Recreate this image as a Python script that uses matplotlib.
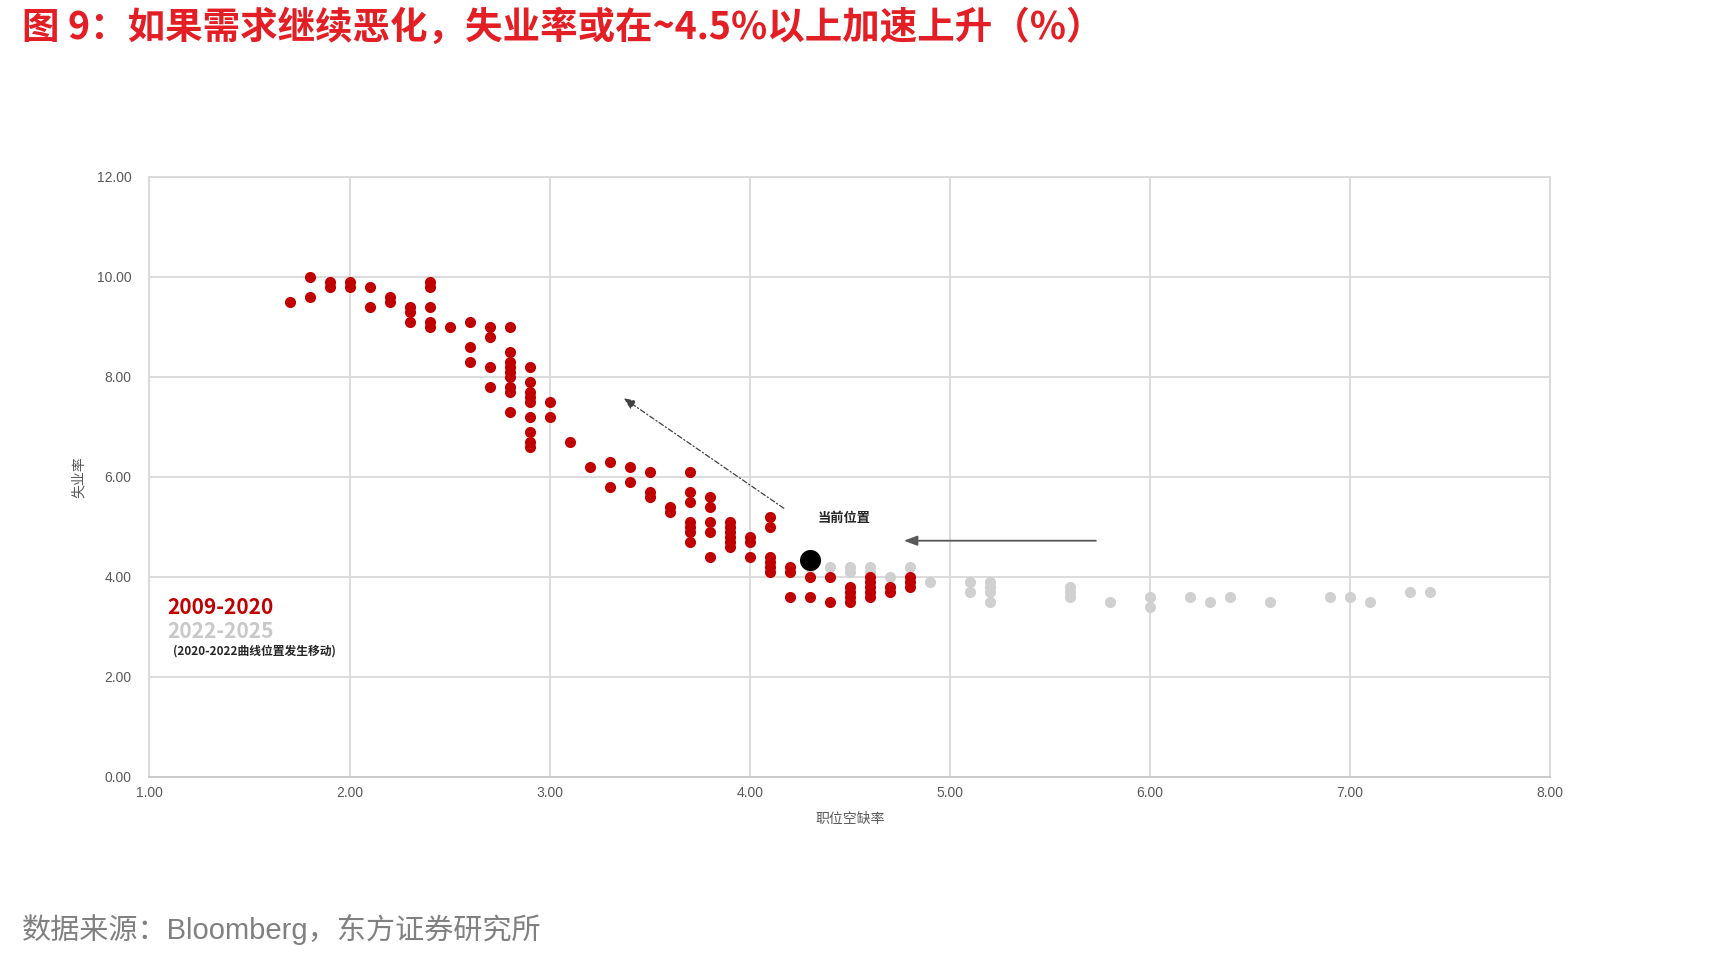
import matplotlib
matplotlib.use("Agg")
import matplotlib.pyplot as plt
import numpy as np

plt.rcParams['font.family'] = ['Liberation Sans', 'Noto Sans CJK SC', 'DejaVu Sans']
CJK = ['Noto Sans CJK SC', 'DejaVu Sans']

# 2009-2020: 职位空缺率 vs 失业率 (红点)
red_x = [1.7, 1.8, 1.8, 1.9, 1.9, 2.0, 2.0, 2.1, 2.1, 2.2, 2.2,
         2.3, 2.3, 2.3, 2.4, 2.4, 2.4, 2.4, 2.4, 2.5,
         2.6, 2.6, 2.6, 2.7, 2.7, 2.7, 2.7,
         2.8, 2.8, 2.8, 2.8, 2.8, 2.8, 2.8, 2.8, 2.8,
         2.9, 2.9, 2.9, 2.9, 2.9, 2.9, 2.9, 2.9, 2.9,
         3.0, 3.0, 3.1, 3.2, 3.3, 3.3, 3.4, 3.4, 3.5, 3.5, 3.5, 3.6, 3.6,
         3.7, 3.7, 3.7, 3.7, 3.7, 3.7, 3.7,
         3.8, 3.8, 3.8, 3.8, 3.8,
         3.9, 3.9, 3.9, 3.9, 3.9, 3.9,
         4.0, 4.0, 4.0,
         4.1, 4.1, 4.1, 4.1, 4.1, 4.1,
         4.2, 4.2, 4.2, 4.3, 4.3, 4.4, 4.4,
         4.5, 4.5, 4.5, 4.5, 4.6, 4.6, 4.6, 4.6, 4.6,
         4.7, 4.7, 4.8, 4.8, 4.8]
red_y = [9.5, 10.0, 9.6, 9.9, 9.8, 9.9, 9.8, 9.8, 9.4, 9.6, 9.5,
         9.4, 9.3, 9.1, 9.9, 9.8, 9.4, 9.1, 9.0, 9.0,
         9.1, 8.6, 8.3, 9.0, 8.8, 8.2, 7.8,
         9.0, 8.5, 8.3, 8.2, 8.1, 8.0, 7.8, 7.7, 7.3,
         8.2, 7.9, 7.7, 7.6, 7.5, 7.2, 6.9, 6.7, 6.6,
         7.5, 7.2, 6.7, 6.2, 6.3, 5.8, 6.2, 5.9, 6.1, 5.7, 5.6, 5.4, 5.3,
         6.1, 5.7, 5.5, 5.1, 5.0, 4.9, 4.7,
         5.6, 5.4, 5.1, 4.9, 4.4,
         5.1, 5.0, 4.9, 4.8, 4.7, 4.6,
         4.8, 4.7, 4.4,
         5.2, 5.0, 4.4, 4.3, 4.2, 4.1,
         4.2, 4.1, 3.6, 4.0, 3.6, 4.0, 3.5,
         3.8, 3.7, 3.6, 3.5, 4.0, 3.9, 3.8, 3.7, 3.6,
         3.8, 3.7, 4.0, 3.9, 3.8]

# 2022-2025 (灰点)
grey_x = [4.3, 4.4, 4.5, 4.5, 4.6, 4.6, 4.7, 4.8, 4.9,
          5.1, 5.1, 5.2, 5.2, 5.2, 5.2, 5.6, 5.6, 5.6, 5.8,
          6.0, 6.0, 6.2, 6.3, 6.4, 6.6, 6.9, 7.0, 7.1, 7.3, 7.4]
grey_y = [4.2, 4.2, 4.2, 4.1, 4.2, 4.1, 4.0, 4.2, 3.9,
          3.9, 3.7, 3.9, 3.8, 3.7, 3.5, 3.8, 3.7, 3.6, 3.5,
          3.6, 3.4, 3.6, 3.5, 3.6, 3.5, 3.6, 3.6, 3.5, 3.7, 3.7]

# 当前位置
current_x = [4.3]
current_y = [4.33]

x_ticks = [1, 2, 3, 4, 5, 6, 7, 8]
y_ticks = [0, 2, 4, 6, 8, 10, 12]

RED = '#C00000'
GREY = '#D0D0D0'
GRID = '#D9D9D9'
TXT = '#595959'

fig = plt.figure(figsize=(17.36, 9.59), dpi=100)
ax = fig.add_axes([0.0861, 0.1901, 0.8068, 0.6256])

ax.scatter(grey_x, grey_y, s=64, color=GREY, linewidths=0, zorder=3)
ax.scatter(red_x, red_y, s=64, color=RED, linewidths=0, zorder=4)
ax.scatter(current_x, current_y, s=230, color='black', linewidths=0, zorder=5)

ax.set_xlim(1, 8)
ax.set_ylim(0, 12)
ax.set_xticks(x_ticks)
ax.set_yticks(y_ticks)
ax.set_xticklabels([f"{v:.2f}" for v in x_ticks])
ax.set_yticklabels([f"{v:.2f}" for v in y_ticks])
ax.tick_params(length=0, labelsize=10, colors=TXT)
ax.tick_params(axis='y', pad=13)
ax.tick_params(axis='x', pad=7)
ax.grid(True, color=GRID, linewidth=1.3, zorder=0)
ax.set_axisbelow(True)
for s in ax.spines.values():
    s.set_color(GRID)
    s.set_linewidth(1.3)
ax.spines['bottom'].set_color('#C8C8C8')

ax.set_ylabel('失业率', family=CJK, fontsize=10, color=TXT)
ax.yaxis.set_label_coords(-0.0456, 0.5)
ax.set_xlabel('职位空缺率', family=CJK, fontsize=10, color=TXT)
ax.xaxis.set_label_coords(0.5, -0.059)

# 箭头与标注
ax.annotate('', xy=(3.37, 7.57), xytext=(4.17, 5.37),
            arrowprops=dict(arrowstyle='-|>,head_length=0.7,head_width=0.3',
                            color='#404040', lw=0.9, ls=(0, (4, 2, 1, 2)),
                            shrinkA=0, shrinkB=0), zorder=6)
ax.annotate('', xy=(4.77, 4.72), xytext=(5.73, 4.72),
            arrowprops=dict(arrowstyle='-|>,head_length=0.8,head_width=0.3',
                            color='#595959', lw=1.3, shrinkA=0, shrinkB=0), zorder=6)
ax.text(4.47, 5.17, '当前位置', family=CJK, fontsize=9.5, fontweight='bold',
        color='#262626', ha='center', va='center')

# 图例文字
ax.text(1.09, 3.39, '2009-2020', family=CJK, fontsize=15, fontweight='bold',
        color=RED, ha='left', va='center')
ax.text(1.09, 2.91, '2022-2025', family=CJK, fontsize=15, fontweight='bold',
        color='#C8C8C8', ha='left', va='center')
ax.text(1.12, 2.51, '(2020-2022曲线位置发生移动)', family=CJK, fontsize=8.5,
        fontweight='bold', color='#262626', ha='left', va='center')

fig.text(0.0127, 1 - 27 / 959, '图 9：如果需求继续恶化，失业率或在~4.5%以上加速上升（%）',
         family=CJK, fontsize=27, fontweight='bold', color='#E31E24',
         ha='left', va='center')
fig.text(0.0127, 1 - 929 / 959, '数据来源：Bloomberg，东方证券研究所',
         family=['Liberation Sans', 'Noto Sans CJK SC'], fontsize=21,
         color='#808080', ha='left', va='center')

fig.savefig('out.png', dpi=100)
